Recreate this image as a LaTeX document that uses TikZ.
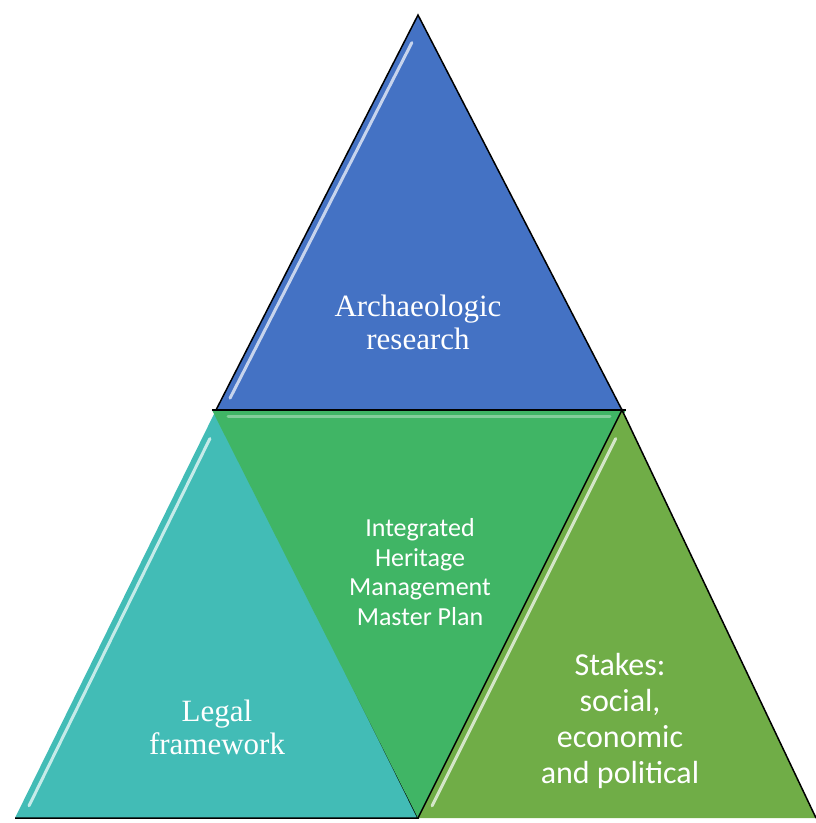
\documentclass[tikz,border=0pt]{standalone}
\usepackage{fontspec}
\setmainfont{Liberation Serif}
\newfontfamily\carlito{Carlito}
\usetikzlibrary{calc}

\definecolor{researchBlue}{RGB}{68,114,196}
\definecolor{planGreen}{RGB}{64,181,101}
\definecolor{legalTeal}{RGB}{66,188,182}
\definecolor{stakeGreen}{RGB}{112,173,71}

\begin{document}
\begin{tikzpicture}[x=1pt, y=-1pt,
  % Triangle styles
  facet/.style={draw=black, line width=1.5pt, line join=miter},
  glint/.style={draw=white, line width=3pt, opacity=0.7, line cap=round},
  % Label styles
  serifLabel/.style={font=\fontsize{31}{33}\selectfont, text=white, align=center},
  sansLabel/.style={font=\carlito\fontsize{26}{29.5}\selectfont, text=white, align=center},
  stakeLabel/.style={font=\carlito\fontsize{32}{36}\selectfont, text=white, align=center},
]

% Frame of the picture
\useasboundingbox (0,0) rectangle (816,823);

% Corner points
\coordinate (topApex) at (418,15);
\coordinate (midLeft) at (216,410);
\coordinate (midRight) at (622,410);
\coordinate (midApex) at (418,818);
\coordinate (baseLeft) at (15,818);
\coordinate (baseRight) at (816,818);

% --- Top: research ---
\fill[researchBlue] (topApex) -- (midRight) -- (midLeft) -- cycle;
\draw[glint] ($(topApex)!.07!(midLeft)+(8,0)$) -- ($(topApex)!.97!(midLeft)+(8,0)$);
\draw[facet] (topApex) -- (midRight) -- (midLeft) -- cycle;

% --- Left: legal ---
\fill[legalTeal] (midLeft) -- (midApex) -- (baseLeft) -- cycle;
\draw[glint] ($(midLeft)!.07!(baseLeft)+(8,0)$) -- ($(midLeft)!.97!(baseLeft)+(8,0)$);
\draw[facet] (midLeft) -- (midApex) -- (baseLeft);

% --- Centre: master plan ---
\fill[planGreen] ([xshift=-4pt]midLeft) -- ([xshift=4pt]midRight) -- (midApex) -- cycle;
\draw[glint, opacity=0.35] ($(midLeft)+(12,6)$) -- ($(midRight)+(-12,6)$);
\draw[facet] ([xshift=-4pt]midLeft) -- ([xshift=4pt]midRight);

% --- Right: stakes ---
\fill[stakeGreen] (midRight) -- (baseRight) -- (midApex) -- cycle;
\draw[glint] ($(midRight)!.07!(midApex)+(8,0)$) -- ($(midRight)!.97!(midApex)+(8,0)$);
\draw[facet] (midApex) -- (midRight) -- (baseRight);

% Labels
\node[serifLabel] (research) at (418,322) {Archaeologic\\research};
\node[serifLabel] (legal) at (217,727) {Legal\\framework};
\node[sansLabel] (plan) at (420,572) {Integrated\\Heritage\\Management\\Master Plan};
\node[stakeLabel] (stakes) at (620,721) {Stakes:\\social,\\economic\\and political};

\end{tikzpicture}
\end{document}
